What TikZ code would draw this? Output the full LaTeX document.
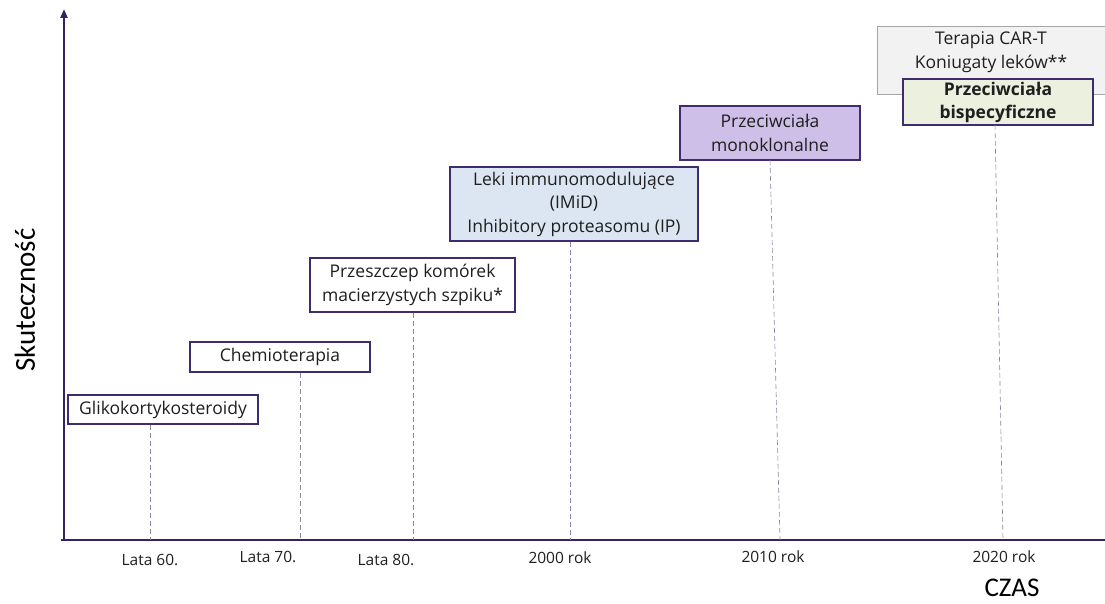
\documentclass[tikz,border=0pt]{standalone}
\usepackage{fontspec}
\setmainfont{Open Sans}
\newfontfamily\axfont{Carlito}
\usetikzlibrary{arrows.meta}
\definecolor{axiscol}{HTML}{35245E}
\definecolor{boxline}{HTML}{3F2C6E}
\definecolor{bluefill}{HTML}{DCE6F2}
\definecolor{lavfill}{HTML}{CDBFE8}
\definecolor{grayfill}{HTML}{F2F2F2}
\definecolor{grayline}{HTML}{A6A6A6}
\definecolor{greenfill}{HTML}{EBF1DE}
\definecolor{dashcol}{HTML}{8A85A0}
\tikzset{
  boxfont/.style={font=\fontsize{17.5}{23.5}\selectfont, text=black!88},
  era/.style={draw=boxline, line width=1.4pt, fill=white, align=center,
    inner sep=0pt, boxfont},
  guide/.style={draw=dashcol, line width=0.6pt, dash pattern=on 5pt off 3pt},
  tick/.style={font=\fontsize{15.5}{17}\selectfont, text=black!88},
  axis/.style={draw=axiscol, line width=2.7pt}
}
\begin{document}
\begin{tikzpicture}[x=1pt,y=-1pt]
\useasboundingbox (0,0) rectangle (1105,604);
% axes
\coordinate (origin) at (64,540);
\coordinate (ytop) at (64,9);
\coordinate (xleft) at (61,540);
\coordinate (xright) at (1105,540);
\draw[axis, -{Triangle[length=9pt,width=7pt]}] (origin) -- (ytop);
\draw[axis] (xleft) -- (xright);

% boxes
\node[era, minimum width=190pt, minimum height=29pt] (glik) at (163,409.5) {Glikokortykosteroidy};
\node[era, minimum width=180pt, minimum height=30pt] (chemo) at (280,357) {Chemioterapia};
\node[era, minimum width=205pt, minimum height=54pt] (stem) at (412.5,285) {Przeszczep komórek\\macierzystych szpiku*};
\node[era, fill=bluefill, minimum width=248pt, minimum height=74pt] (imid) at (574,204) {Leki immunomodulujące\\(IMiD)\\Inhibitory proteasomu (IP)};
\node[era, fill=lavfill, minimum width=180pt, minimum height=54pt] (mono) at (770,133) {Przeciwciała\\monoklonalne};
\node[draw=grayline, line width=1pt, fill=grayfill, minimum width=230pt, minimum height=68pt, inner sep=0pt] (cart) at (992,61) {};
\node[boxfont, align=center, inner sep=0pt] (carttext) at (991,52) {Terapia CAR-T\\Koniugaty leków**};
\node[era, fill=greenfill, minimum width=190pt, minimum height=46pt, font=\fontsize{17.5}{23}\selectfont\bfseries] (bisp) at (998,102) {Przeciwciała\\bispecyficzne};

% guide lines
\coordinate (g60) at (150,540);
\coordinate (g70) at (300,540);
\coordinate (g80) at (413,540);
\coordinate (g00) at (570,540);
\coordinate (g10) at (780,540);
\coordinate (g20) at (1003,540);
\coordinate (m10) at (770,160);
\coordinate (m20) at (995,125);
\draw[guide] (g60 |- glik.south) -- (g60);
\draw[guide] (g70 |- chemo.south) -- (g70);
\draw[guide] (g80 |- stem.south) -- (g80);
\draw[guide] (g00 |- imid.south) -- (g00);
\draw[guide] (m10) -- (g10);
\draw[guide] (m20) -- (g20);

% tick labels
\node[tick] (l60) at (150,560) {Lata 60.};
\node[tick] (l70) at (268,557) {Lata 70.};
\node[tick] (l80) at (386,560) {Lata 80.};
\node[tick] (l00) at (560,558) {2000 rok};
\node[tick] (l10) at (773,557) {2010 rok};
\node[tick] (l20) at (1004,557) {2020 rok};

% axis titles
\node[font=\axfont\fontsize{27}{29}\selectfont] (czas) at (1012,588) {CZAS};
\node[font=\axfont\fontsize{29}{31}\selectfont, rotate=90] (skut) at (25,300) {Skuteczność};
\end{tikzpicture}
\end{document}
